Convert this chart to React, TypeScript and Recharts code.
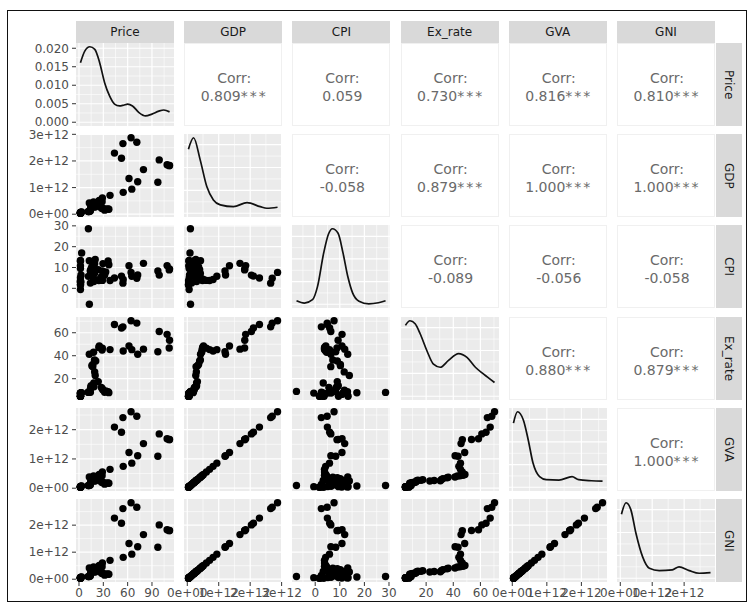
import React from 'react'
import {
  ScatterChart,
  Scatter,
  LineChart,
  Line,
  XAxis,
  YAxis,
  CartesianGrid,
} from 'recharts'

// ── Data (one value per year, 1960–2019) ───────────────────────────────────────

const PRICE = [
  1.90, 1.80, 1.80, 1.80, 1.80, 1.80, 1.80, 1.80, 1.80, 1.80,
  1.80, 2.24, 2.48, 3.29, 11.58, 11.53, 12.80, 13.92, 14.02, 31.61,
  36.83, 35.93, 32.97, 29.55, 28.78, 27.56, 14.43, 18.44, 14.92, 18.23,
  23.73, 20.00, 19.32, 16.97, 15.82, 17.02, 20.67, 19.09, 12.72, 17.97,
  28.50, 24.44, 25.02, 28.83, 38.27, 54.52, 65.14, 72.39, 97.26, 61.67,
  79.50, 111.26, 111.67, 108.66, 98.95, 52.39, 43.73, 54.19, 71.31, 64.21,
]

// US$ billions
const GDP = [
  37.0, 39.2, 42.2, 48.4, 56.5, 59.6, 45.9, 50.1, 53.1, 58.4,
  62.4, 67.4, 71.5, 85.5, 99.5, 98.5, 102.7, 121.5, 137.3, 153.0,
  186.3, 193.5, 200.7, 218.3, 212.2, 232.5, 249.0, 279.0, 296.6, 296.0,
  321.0, 270.1, 288.2, 279.3, 327.3, 360.3, 392.9, 415.9, 421.4, 458.8,
  468.4, 485.4, 514.9, 607.7, 709.1, 820.4, 940.3, 1216.7, 1198.9, 1341.9,
  1675.6, 1823.1, 1827.6, 1856.7, 2039.1, 2103.6, 2294.8, 2651.5, 2701.1, 2870.5,
]

const CPI = [
  1.78, 1.70, 3.63, 2.95, 13.36, 9.47, 10.80, 13.06, 3.24, -0.58,
  5.09, 3.08, 6.44, 16.94, 28.60, 5.75, -7.63, 8.31, 2.52, 6.28,
  11.35, 13.11, 7.89, 11.87, 8.32, 5.56, 8.73, 8.80, 9.38, 3.26,
  8.97, 13.87, 11.79, 6.33, 10.25, 10.22, 8.98, 7.16, 13.23, 4.67,
  4.01, 3.78, 4.30, 3.81, 3.77, 4.25, 5.80, 6.37, 8.35, 10.88,
  11.99, 8.86, 9.31, 10.91, 6.35, 5.87, 4.94, 2.49, 4.86, 7.66,
]

const EX_RATE = [
  4.76, 4.76, 4.76, 4.76, 4.76, 4.76, 6.36, 7.50, 7.50, 7.50,
  7.50, 7.49, 7.59, 7.74, 8.10, 8.38, 8.96, 8.74, 8.19, 8.13,
  7.86, 8.66, 9.46, 10.10, 11.36, 12.37, 12.61, 12.96, 13.92, 16.23,
  17.50, 22.74, 25.92, 30.49, 31.37, 32.43, 35.43, 36.31, 41.26, 43.06,
  44.94, 47.19, 48.61, 46.58, 45.32, 44.10, 45.31, 41.35, 43.51, 48.41,
  45.73, 46.67, 53.44, 58.60, 61.03, 64.15, 67.20, 65.12, 68.39, 70.42,
]

// US$ billions
const GVA = [
  33.7, 35.7, 38.4, 44.0, 51.4, 54.2, 41.8, 45.6, 48.3, 53.1,
  56.8, 61.3, 65.1, 77.8, 90.5, 89.6, 93.5, 110.6, 124.9, 139.2,
  169.5, 176.1, 182.6, 198.7, 193.1, 211.6, 226.6, 253.9, 269.9, 269.4,
  292.1, 245.8, 262.3, 254.2, 297.8, 327.9, 357.5, 378.5, 383.5, 417.5,
  426.2, 441.7, 468.6, 553.0, 645.3, 746.6, 855.7, 1107.2, 1091.0, 1221.1,
  1524.8, 1659.0, 1663.1, 1689.6, 1855.6, 1914.3, 2088.3, 2412.9, 2458.0, 2612.2,
]

// US$ billions
const GNI = [
  36.4, 38.6, 41.6, 47.7, 55.7, 58.7, 45.2, 49.3, 52.3, 57.5,
  61.5, 66.4, 70.4, 84.2, 98.0, 97.0, 101.2, 119.7, 135.2, 150.7,
  183.5, 190.6, 197.7, 215.0, 209.0, 229.0, 245.3, 274.8, 292.2, 291.6,
  316.2, 266.0, 283.9, 275.1, 322.4, 354.9, 387.0, 409.7, 415.1, 451.9,
  461.4, 478.1, 507.2, 598.6, 698.5, 808.1, 926.2, 1198.4, 1180.9, 1321.8,
  1650.5, 1795.7, 1800.2, 1828.8, 2008.5, 2072.0, 2260.4, 2611.7, 2660.6, 2827.4,
]

const VAR_NAMES = ['Price', 'GDP', 'CPI', 'Ex_rate', 'GVA', 'GNI']
const SERIES = [PRICE, GDP, CPI, EX_RATE, GVA, GNI]

const DENS_PRICE_X = [1.8, 7.3, 13.4, 19.5, 25.5, 31.6, 37.7, 43.8, 49.9, 55, 60, 66, 74, 82, 90, 98.5, 104.6, 111.7]
const DENS_PRICE_Y = [0.0161, 0.0193, 0.0204, 0.0197, 0.0161, 0.0107, 0.0071, 0.0049, 0.0044, 0.0046, 0.0049, 0.0044, 0.0026, 0.0017, 0.0022, 0.0030, 0.0033, 0.0028]
const DENS_GDP_X = [37, 200, 410, 620, 830, 1050, 1470, 1900, 2320, 2530, 2870]
const DENS_GDP_Y = [0.84, 0.99, 0.70, 0.35, 0.175, 0.11, 0.086, 0.14, 0.086, 0.065, 0.078]
const DENS_CPI_X = [-7.6, -4.4, -1.1, 0.9, 3.45, 5.4, 7.0, 9.3, 11.3, 13.3, 15.2, 17.8, 21.8, 25.7, 28.6]
const DENS_CPI_Y = [0.045, 0.015, 0.06, 0.23, 0.68, 0.93, 1.0, 0.94, 0.68, 0.36, 0.15, 0.04, 0.005, 0.02, 0.046]
const DENS_EX_X = [4.76, 8.1, 11.9, 15.6, 20.5, 25.4, 30.4, 36.5, 43.9, 50.1, 56.3, 62.4, 70.4]
const DENS_EX_Y = [0.93, 0.99, 0.95, 0.82, 0.60, 0.42, 0.38, 0.47, 0.56, 0.51, 0.38, 0.29, 0.18]
const DENS_GVA_X = [33.7, 150, 320, 460, 600, 790, 980, 1350, 1730, 1920, 2290, 2612]
const DENS_GVA_Y = [0.85, 1.0, 0.89, 0.63, 0.32, 0.14, 0.10, 0.095, 0.14, 0.10, 0.086, 0.08]
const DENS_GNI_X = [36.4, 180, 330, 490, 700, 910, 1220, 1630, 1840, 2160, 2470, 2827]
const DENS_GNI_Y = [0.84, 0.99, 0.90, 0.59, 0.28, 0.13, 0.10, 0.11, 0.15, 0.10, 0.065, 0.073]

const DENS_X = [DENS_PRICE_X, DENS_GDP_X, DENS_CPI_X, DENS_EX_X, DENS_GVA_X, DENS_GNI_X]
const DENS_Y = [DENS_PRICE_Y, DENS_GDP_Y, DENS_CPI_Y, DENS_EX_Y, DENS_GVA_Y, DENS_GNI_Y]

// correlations, upper triangle, row by row
const CORR_LABELS = [
  ['0.809***', '0.059', '0.730***', '0.816***', '0.810***'],
  ['-0.058', '0.879***', '1.000***', '1.000***'],
  ['-0.089', '-0.056', '-0.058'],
  ['0.880***', '0.879***'],
  ['1.000***'],
]

// axis breaks
const MAJOR = [[0, 30, 60, 90], [0, 1000, 2000, 3000], [0, 10, 20, 30], [20, 40, 60], [0, 1000, 2000], [0, 1000, 2000]]
const MINOR = [[15, 45, 75, 105], [500, 1500, 2500], [-5, 5, 15, 25], [10, 30, 50, 70], [500, 1500, 2500], [500, 1500, 2500]]
const DENS_PRICE_TICKS = [0, 0.005, 0.01, 0.015, 0.02]
const DENS_PRICE_MINOR = [0.0025, 0.0075, 0.0125, 0.0175]
const DENS_REL_TICKS = [0, 0.3, 0.6, 0.9]
const DENS_REL_MINOR = [0.15, 0.45, 0.75]

// ── Layout ─────────────────────────────────────────────────────────────────────

const PW = 98
const PH = 83
const COL_X = [0, 1, 2, 3, 4, 5].map((i) => 76 + i * 108.2)
const ROW_Y = [0, 1, 2, 3, 4, 5].map((i) => 43 + i * 91.2)
const AXIS_W = 76
const AXIS_H = 22
const PAD = 30 // room round each chart so edge tick labels are not clipped
const FONT = '"DejaVu Sans", "Liberation Sans", sans-serif'
const BG = '#EBEBEB'
const STRIP = '#D9D9D9'

const fmtSci = (v: number) => (v === 0 ? '0e+00' : `${v / 1000}e+12`)
const fmtPlain = (v: number) => String(v)
const FORMATS = [fmtPlain, fmtSci, fmtPlain, fmtPlain, fmtSci, fmtSci]

function expand(arr: number[]): [number, number] {
  const lo = Math.min(...arr)
  const hi = Math.max(...arr)
  const r = hi - lo
  return [lo - 0.05 * r, hi + 0.05 * r]
}

const tickStyle = { fontSize: 12, fill: '#4d4d4d', fontFamily: FONT }

// ── Panels ─────────────────────────────────────────────────────────────────────

function CorrPanel({ r, c }: { r: number; c: number }) {
  const label = CORR_LABELS[r][c - r - 1]
  const stars = label.endsWith('***')
  const num = stars ? label.slice(0, -3) : label
  const line: React.CSSProperties = {
    position: 'absolute', left: 0, width: PW, textAlign: 'center',
    fontSize: 14, lineHeight: '16px', color: '#6a6a6a',
  }
  return (
    <div
      style={{
        position: 'absolute', left: COL_X[c], top: ROW_Y[r], width: PW, height: PH,
        background: '#fff', boxSizing: 'border-box', border: '1px solid #f0f0f0',
      }}
    >
      <div style={{ ...line, top: 26 }}>Corr:</div>
      <div style={{ ...line, top: 44 }}>
        {num}
        {stars && <span style={{ letterSpacing: 2 }}>***</span>}
      </div>
    </div>
  )
}

function Panel({ r, c }: { r: number; c: number }) {
  if (r < c) return <CorrPanel r={r} c={c} />
  const left = c === 0
  const bottom = r === 5
  const w = PW + (left ? AXIS_W : 0) + 2 * PAD
  const h = PH + (bottom ? AXIS_H : 0) + 2 * PAD
  const x0 = (left ? COL_X[0] - AXIS_W : COL_X[c]) - PAD
  const xDomain = expand(SERIES[c])

  const xAxis = (
    <XAxis
      type="number"
      dataKey="x"
      domain={xDomain}
      allowDataOverflow
      ticks={MAJOR[c]}
      interval={0}
      tickFormatter={FORMATS[c]}
      hide={!bottom}
      height={AXIS_H}
      axisLine={false}
      tickLine={{ stroke: '#333' }}
      tickSize={4}
      tickMargin={2}
      tick={tickStyle}
    />
  )

  const wrap: React.CSSProperties = { position: 'absolute', left: x0, top: ROW_Y[r] - PAD }
  const margin = { top: PAD, right: PAD, bottom: PAD, left: PAD }

  if (r === c) {
    const ys = DENS_Y[c]
    const m = Math.max(...ys)
    const yDomain: [number, number] = [-0.05 * m, 1.05 * m]
    const majorY = c === 0 ? DENS_PRICE_TICKS : DENS_REL_TICKS
    const minorY = c === 0 ? DENS_PRICE_MINOR : DENS_REL_MINOR
    const data = DENS_X[c].map((x, i) => ({ x, y: ys[i] }))
    return (
      <div style={wrap}>
        <LineChart width={w} height={h} data={data} margin={margin}>
          <CartesianGrid fill={BG} stroke="#fff" strokeWidth={0.6} horizontalValues={minorY} verticalValues={MINOR[c]} />
          <CartesianGrid stroke="#fff" strokeWidth={1.2} horizontalValues={majorY} verticalValues={MAJOR[c]} />
          {xAxis}
          <YAxis
            type="number"
            domain={yDomain}
            allowDataOverflow
            ticks={majorY}
            interval={0}
            tickFormatter={(v: number) => v.toFixed(3)}
            hide={!left}
            width={AXIS_W}
            axisLine={false}
            tickLine={{ stroke: '#333' }}
            tickSize={4}
            tickMargin={3}
            tick={tickStyle}
          />
          <Line
            type="monotone"
            dataKey="y"
            stroke="#111"
            strokeWidth={1.7}
            dot={false}
            isAnimationActive={false}
          />
        </LineChart>
      </div>
    )
  }

  const data = SERIES[c].map((x, i) => ({ x, y: SERIES[r][i] }))
  return (
    <div style={wrap}>
      <ScatterChart width={w} height={h} margin={margin}>
        <CartesianGrid fill={BG} stroke="#fff" strokeWidth={0.6} horizontalValues={MINOR[r]} verticalValues={MINOR[c]} />
        <CartesianGrid stroke="#fff" strokeWidth={1.2} horizontalValues={MAJOR[r]} verticalValues={MAJOR[c]} />
        {xAxis}
        <YAxis
          type="number"
          dataKey="y"
          domain={expand(SERIES[r])}
          allowDataOverflow
          ticks={MAJOR[r]}
          interval={0}
          tickFormatter={FORMATS[r]}
          hide={!left}
          width={AXIS_W}
          axisLine={false}
          tickLine={{ stroke: '#333' }}
          tickSize={4}
          tickMargin={3}
          tick={tickStyle}
        />
        <Scatter
          data={data}
          isAnimationActive={false}
          shape={(p: any) => <circle cx={p.cx} cy={p.cy} r={3.7} fill="#000" />}
        />
      </ScatterChart>
    </div>
  )
}

// ── Component ──────────────────────────────────────────────────────────────────

export default function App() {
  const idx = [0, 1, 2, 3, 4, 5]
  return (
    <div
      style={{
        position: 'absolute', left: 0, top: 0, width: 747, height: 604,
        background: '#fff', fontFamily: FONT, overflow: 'hidden',
      }}
    >
      {/* frame */}
      <div
        style={{
          position: 'absolute', left: 7, top: 10, width: 740, height: 592,
          border: '1.5px solid #111', boxSizing: 'border-box',
        }}
      />

      {/* top strips */}
      {idx.map((c) => (
        <div
          key={`ts${c}`}
          style={{
            position: 'absolute', left: COL_X[c], top: 21, width: PW, height: 22,
            background: STRIP, color: '#1a1a1a', fontSize: 12,
            lineHeight: '22px', textAlign: 'center',
          }}
        >
          {VAR_NAMES[c]}
        </div>
      ))}

      {/* right strips */}
      {idx.map((r) => (
        <div
          key={`rs${r}`}
          style={{
            position: 'absolute', left: COL_X[5] + PW + 1, top: ROW_Y[r], width: 26, height: PH,
            background: STRIP, color: '#1a1a1a', fontSize: 12,
            display: 'flex', alignItems: 'center', justifyContent: 'center',
          }}
        >
          <span style={{ writingMode: 'vertical-rl' }}>{VAR_NAMES[r]}</span>
        </div>
      ))}

      {idx.map((r) => idx.map((c) => <Panel key={`${r}-${c}`} r={r} c={c} />))}
    </div>
  )
}
